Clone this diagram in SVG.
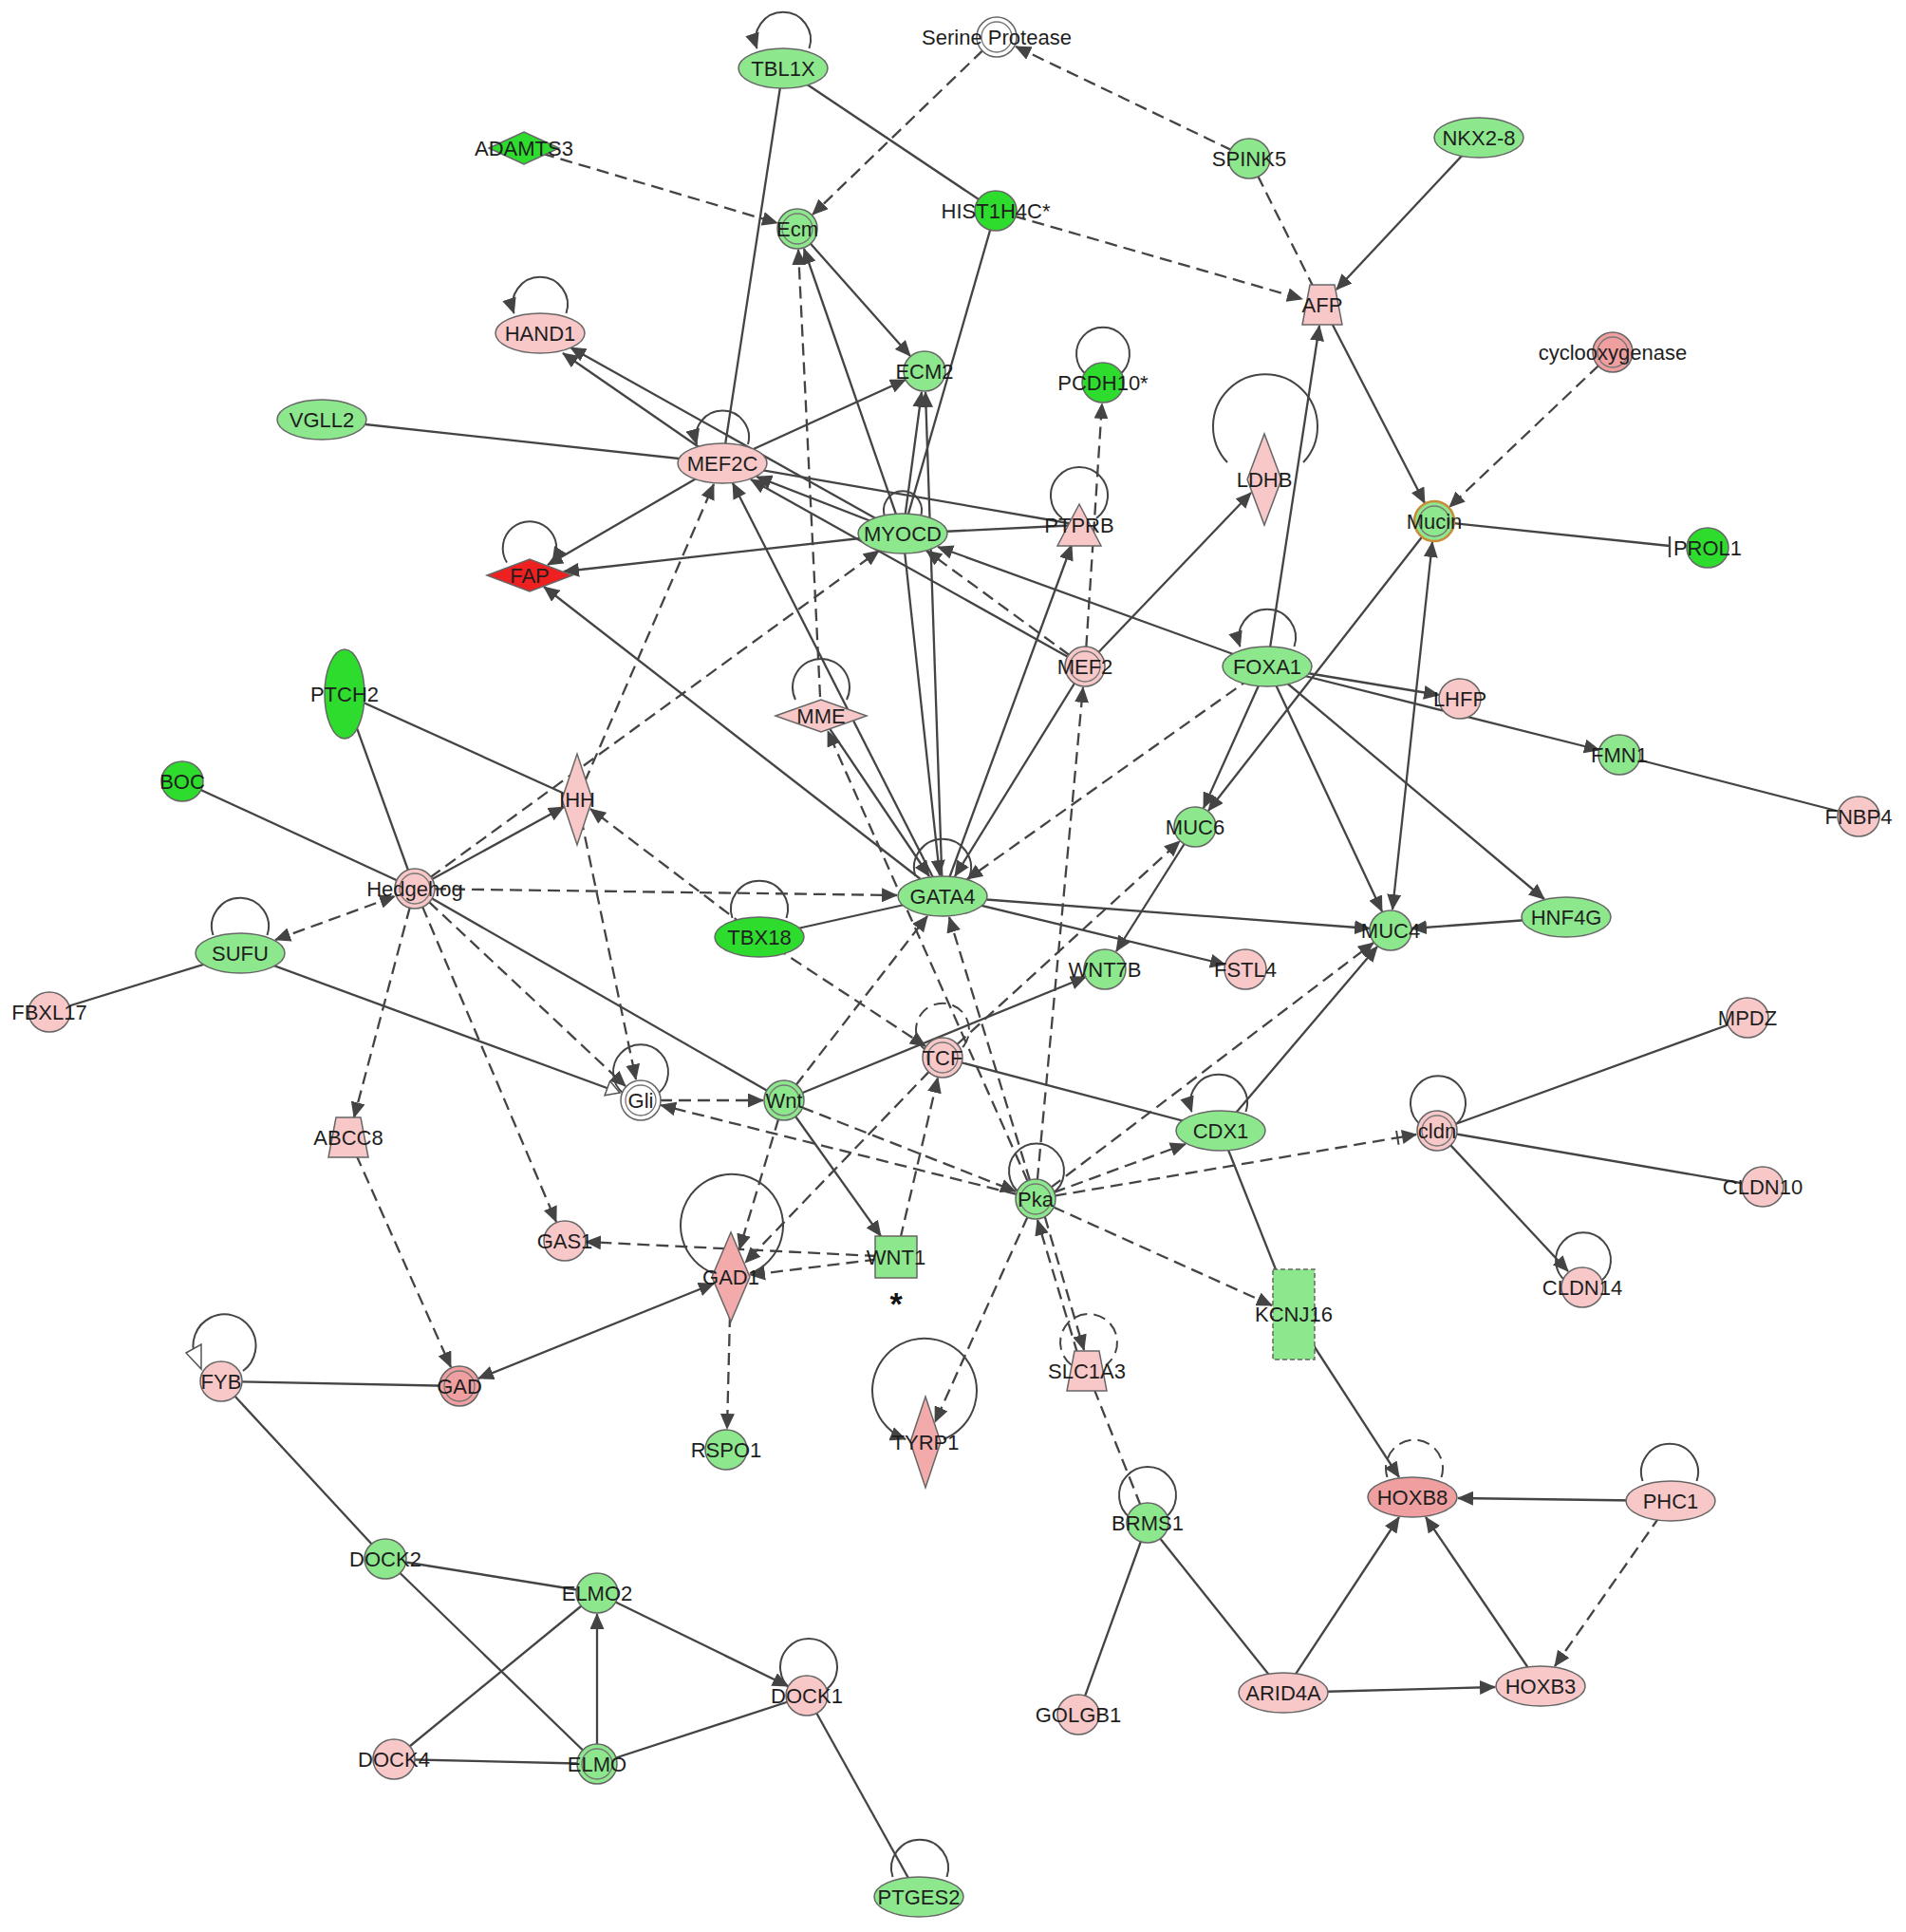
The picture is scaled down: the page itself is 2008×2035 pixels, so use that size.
<svg xmlns="http://www.w3.org/2000/svg" width="2008" height="2035" viewBox="0 0 2008 2035">
<style>
.n{stroke:#666;stroke-width:1.5}
.lg{fill:#8de88d}.bg{fill:#2edc2e}.pk{fill:#f8c8c8}.sa{fill:#ef9f9f}.rd{fill:#ee2020}.wh{fill:#fff}.dp{fill:#f3aaaa}
.in{fill:none;stroke:#777;stroke-width:1.3}
text{font-family:"Liberation Sans",Arial,sans-serif;font-size:22px;fill:#1e1e1e;text-anchor:middle}
.e{fill:none;stroke:#444;stroke-width:2.3}
.d{stroke-dasharray:13 7}
.a{marker-end:url(#ah)}
.b{marker-start:url(#as);marker-end:url(#ah)}
.o{marker-end:url(#ao)}
.lp{fill:none;stroke:#444;stroke-width:2}
</style>
<defs>
<marker id="ah" viewBox="0 0 17 15" markerWidth="17" markerHeight="15" refX="16" refY="7.5" orient="auto" markerUnits="userSpaceOnUse"><path d="M0,0L17,7.5L0,15z" fill="#444"/></marker>
<marker id="as" viewBox="0 0 17 15" markerWidth="17" markerHeight="15" refX="16" refY="7.5" orient="auto-start-reverse" markerUnits="userSpaceOnUse"><path d="M0,0L17,7.5L0,15z" fill="#444"/></marker>
<marker id="ao" viewBox="0 0 16 18" markerWidth="16" markerHeight="18" refX="15" refY="9" orient="auto" markerUnits="userSpaceOnUse"><path d="M1,1L15,9L1,17z" fill="#fff" stroke="#555" stroke-width="1.5"/></marker>
<marker id="ab" viewBox="0 0 24 15" markerWidth="24" markerHeight="15" refX="23" refY="7.5" orient="auto" markerUnits="userSpaceOnUse"><path d="M8,0L24,7.5L8,15z" fill="#444"/><path d="M3,0V15" stroke="#444" stroke-width="2"/></marker>
</defs>
<rect width="2008" height="2035" fill="#fff"/>
<g id="connectors">
<line class="e" x1="825" y1="72" x2="761" y2="488"/>
<line class="e" x1="825" y1="72" x2="1049" y2="222"/>
<line class="e d a" x1="1050" y1="39" x2="856" y2="226"/>
<line class="e d a" x1="1316" y1="167" x2="1070" y2="49"/>
<line class="e d a" x1="552" y1="156" x2="819" y2="235"/>
<line class="e d a" x1="1049" y1="222" x2="1372" y2="315"/>
<line class="e d" x1="1316" y1="167" x2="1393" y2="321"/>
<line class="e a" x1="1558" y1="145" x2="1408" y2="305"/>
<line class="e" x1="1049" y1="222" x2="951" y2="562"/>
<line class="e a" x1="840" y1="241" x2="959" y2="375"/>
<line class="e a" x1="951" y1="562" x2="847" y2="262"/>
<line class="e d a" x1="865" y1="754" x2="841" y2="263"/>
<line class="e a" x1="761" y1="488" x2="593" y2="372"/>
<line class="e a" x1="951" y1="562" x2="601" y2="366"/>
<line class="e" x1="339" y1="442" x2="761" y2="488"/>
<line class="e a" x1="761" y1="488" x2="954" y2="400"/>
<line class="e a" x1="761" y1="488" x2="577" y2="595"/>
<line class="e a" x1="951" y1="562" x2="594" y2="602"/>
<line class="e a" x1="951" y1="562" x2="797" y2="502"/>
<line class="e a" x1="1143" y1="702" x2="791" y2="505"/>
<line class="e" x1="761" y1="488" x2="1137" y2="553"/>
<line class="e d a" x1="608" y1="842" x2="752" y2="510"/>
<line class="e a" x1="993" y1="944" x2="772" y2="509"/>
<line class="e a" x1="993" y1="944" x2="573" y2="618"/>
<line class="e d a" x1="437" y1="936" x2="926" y2="580"/>
<line class="e" x1="951" y1="562" x2="1137" y2="553"/>
<line class="e d a" x1="1143" y1="702" x2="1161" y2="425"/>
<line class="e a" x1="993" y1="944" x2="1129" y2="574"/>
<line class="e a" x1="1143" y1="702" x2="1318" y2="519"/>
<line class="e a" x1="1335" y1="702" x2="1390" y2="343"/>
<line class="e a" x1="1393" y1="321" x2="1501" y2="530"/>
<line class="e d a" x1="1699" y1="371" x2="1527" y2="534"/>
<line class="e" x1="1511" y1="549" x2="1759" y2="575"/>
<line class="e" x1="1759" y1="565" x2="1759" y2="587"/>
<line class="e a" x1="1335" y1="702" x2="988" y2="576"/>
<line class="e d a" x1="1143" y1="702" x2="976" y2="580"/>
<line class="e d a" x1="1335" y1="702" x2="1019" y2="926"/>
<line class="e a" x1="1335" y1="702" x2="1268" y2="851"/>
<line class="e a" x1="1511" y1="549" x2="1273" y2="854"/>
<line class="e a" x1="1335" y1="702" x2="1456" y2="960"/>
<line class="e b" x1="1509" y1="571" x2="1467" y2="958"/>
<line class="e a" x1="1335" y1="702" x2="1516" y2="732"/>
<line class="e a" x1="1335" y1="702" x2="1685" y2="790"/>
<line class="e a" x1="1335" y1="702" x2="1627" y2="947"/>
<line class="e" x1="1706" y1="795" x2="1958" y2="860"/>
<line class="e a" x1="1650" y1="966" x2="1487" y2="978"/>
<line class="e a" x1="993" y1="944" x2="1443" y2="978"/>
<line class="e a" x1="993" y1="944" x2="1291" y2="1016"/>
<line class="e a" x1="1259" y1="871" x2="1176" y2="1002"/>
<line class="e" x1="800" y1="987" x2="993" y2="944"/>
<line class="e d a" x1="437" y1="936" x2="945" y2="943"/>
<line class="e d a" x1="800" y1="987" x2="975" y2="1102"/>
<line class="e d a" x1="800" y1="987" x2="622" y2="852"/>
<line class="e a" x1="437" y1="936" x2="594" y2="850"/>
<line class="e" x1="363" y1="731" x2="608" y2="842"/>
<line class="e" x1="363" y1="731" x2="437" y2="936"/>
<line class="e" x1="192" y1="823" x2="437" y2="936"/>
<line class="e d b" x1="290" y1="990" x2="416" y2="944"/>
<line class="e" x1="52" y1="1066" x2="253" y2="1004"/>
<line class="e o" x1="253" y1="1004" x2="653" y2="1151"/>
<line class="e" x1="437" y1="936" x2="826" y2="1159"/>
<line class="e d a" x1="437" y1="936" x2="659" y2="1144"/>
<line class="e d a" x1="437" y1="936" x2="586" y2="1287"/>
<line class="e d a" x1="437" y1="936" x2="373" y2="1177"/>
<line class="e d a" x1="608" y1="842" x2="670" y2="1137"/>
<line class="e d a" x1="675" y1="1159" x2="804" y2="1159"/>
<line class="e d a" x1="1091" y1="1263" x2="696" y2="1164"/>
<line class="e d a" x1="826" y1="1159" x2="1070" y2="1255"/>
<line class="e a" x1="826" y1="1159" x2="1144" y2="1029"/>
<line class="e d a" x1="826" y1="1159" x2="977" y2="965"/>
<line class="e a" x1="826" y1="1159" x2="928" y2="1302"/>
<line class="e d a" x1="826" y1="1159" x2="779" y2="1316"/>
<line class="e d a" x1="993" y1="1114" x2="785" y2="1330"/>
<line class="e d a" x1="944" y1="1324" x2="988" y2="1135"/>
<line class="e d a" x1="944" y1="1324" x2="790" y2="1343"/>
<line class="e d a" x1="944" y1="1324" x2="617" y2="1308"/>
<line class="e d a" x1="367" y1="1198" x2="475" y2="1440"/>
<line class="e b" x1="504" y1="1452" x2="752" y2="1352"/>
<line class="e d a" x1="770" y1="1345" x2="766" y2="1505"/>
<line class="e" x1="233" y1="1455" x2="484" y2="1460"/>
<line class="e" x1="233" y1="1455" x2="406" y2="1642"/>
<line class="e" x1="406" y1="1642" x2="629" y2="1678"/>
<line class="e" x1="406" y1="1642" x2="629" y2="1858"/>
<line class="e" x1="415" y1="1853" x2="629" y2="1678"/>
<line class="e" x1="415" y1="1853" x2="629" y2="1858"/>
<line class="e a" x1="629" y1="1858" x2="629" y2="1700"/>
<line class="e a" x1="629" y1="1678" x2="830" y2="1776"/>
<line class="e" x1="629" y1="1858" x2="850" y2="1786"/>
<line class="e" x1="850" y1="1786" x2="968" y2="1998"/>
<line class="e d a" x1="1091" y1="1263" x2="1141" y2="724"/>
<line class="e d a" x1="1091" y1="1263" x2="1000" y2="966"/>
<line class="e d a" x1="993" y1="1114" x2="1243" y2="886"/>
<line class="e d a" x1="1091" y1="1263" x2="1447" y2="993"/>
<line class="e d a" x1="1091" y1="1263" x2="1249" y2="1205"/>
<line class="e d" marker-end="url(#ab)" x1="1091" y1="1263" x2="1492" y2="1195"/>
<line class="e d a" x1="1091" y1="1263" x2="1340" y2="1375"/>
<line class="e d a" x1="1091" y1="1263" x2="985" y2="1498"/>
<line class="e d a" x1="1095" y1="1262" x2="1142" y2="1422"/>
<line class="e d a" x1="1141" y1="1445" x2="1093" y2="1285"/>
<line class="e d" x1="1145" y1="1444" x2="1209" y2="1604"/>
<line class="e" x1="1209" y1="1604" x2="1136" y2="1806"/>
<line class="e" x1="1209" y1="1604" x2="1352" y2="1783"/>
<line class="e a" x1="1352" y1="1783" x2="1474" y2="1598"/>
<line class="e a" x1="1352" y1="1783" x2="1575" y2="1777"/>
<line class="e a" x1="1623" y1="1776" x2="1502" y2="1598"/>
<line class="e a" x1="1760" y1="1581" x2="1536" y2="1578"/>
<line class="e d a" x1="1760" y1="1581" x2="1638" y2="1755"/>
<line class="e a" x1="1363" y1="1385" x2="1474" y2="1556"/>
<line class="e" x1="1286" y1="1191" x2="1363" y2="1385"/>
<line class="e a" x1="1286" y1="1191" x2="1451" y2="997"/>
<line class="e" x1="993" y1="1114" x2="1286" y2="1191"/>
<line class="e" x1="1514" y1="1191" x2="1841" y2="1072"/>
<line class="e" x1="1514" y1="1191" x2="1857" y2="1250"/>
<line class="e a" x1="1514" y1="1191" x2="1652" y2="1339"/>
<line class="e d a" x1="1091" y1="1263" x2="872" y2="770"/>
<line class="e a" x1="865" y1="754" x2="979" y2="923"/>
<line class="e a" x1="951" y1="562" x2="990" y2="922"/>
<line class="e a" x1="993" y1="944" x2="975" y2="413"/>
<line class="e a" x1="951" y1="562" x2="971" y2="413"/>
<line class="e a" x1="1143" y1="702" x2="1006" y2="923"/>
<path class="lp a" d="M852.5,51 A29,29 0 1 0 797.5,51"/>
<path class="lp a" d="M596.5,330 A29,29 0 1 0 541.5,330"/>
<path class="lp a" d="M788,468 A28,28 0 1 0 734,468"/>
<path class="lp a" d="M534,592.5 A28.3,28.3 0 1 1 582,592.5"/>
<path class="lp" d="M1145,395 A28,28 0 1 1 1179,395"/>
<path class="lp" d="M1119,546 A30,30 0 1 1 1155,546"/>
<path class="lp" d="M1293,487 A55,55 0 1 1 1373,487"/>
<path class="lp" d="M838,737 A30,30 0 1 1 892,737"/>
<path class="lp a" d="M1363.5,681 A30,30 0 1 0 1306.5,681"/>
<path class="lp" d="M933,546 A20,20 0 1 1 969,546"/>
<path class="lp" d="M964.5,923 A30,30 0 1 1 1021.5,923"/>
<path class="lp" d="M771.5,967 A30,30 0 1 1 828.5,967"/>
<path class="lp" d="M224.5,985 A30,30 0 1 1 281.5,985"/>
<path class="lp" d="M657,1152 A29,29 0 1 1 693,1152"/>
<path class="lp d" d="M976,1107 A28,28 0 1 1 1010,1107"/>
<path class="lp" d="M751,1341 A54,54 0 1 1 791,1341"/>
<path class="lp" d="M1075,1257 A29,29 0 1 1 1109,1257"/>
<path class="lp a" d="M1312.5,1171 A30,30 0 1 0 1255.5,1171"/>
<path class="lp" d="M1497,1185 A29,29 0 1 1 1533,1185"/>
<path class="lp" d="M1650,1350 A29,29 0 1 1 1686,1350"/>
<path class="lp d" d="M1129,1438 A30,30 0 1 1 1165,1438"/>
<path class="lp a" d="M994,1516 A55,55 0 1 0 954,1516"/>
<path class="lp" d="M256,1444 A33,33 0 1 0 206,1430"/>
<polygon points="196,1425 212,1416 212,1442" fill="#fff" stroke="#555" stroke-width="1.5"/>
<path class="lp" d="M1191,1599 A30,30 0 1 1 1227,1599"/>
<path class="lp d" d="M1461.5,1556 A30,30 0 1 1 1518.5,1556"/>
<path class="lp" d="M1730.5,1560 A30,30 0 1 1 1787.5,1560"/>
<path class="lp" d="M834,1780 A30,30 0 1 1 870,1780"/>
<path class="lp" d="M940.5,1977 A30,30 0 1 1 997.5,1977"/>
</g>
<g id="node-TBL1X"><ellipse class="n lg" cx="825" cy="72" rx="47" ry="21"/><text x="825" y="80">TBL1X</text></g>
<g id="node-SerineProtease"><circle class="n wh" cx="1050" cy="39" r="21"/><circle class="in" cx="1050" cy="39" r="16"/><text x="1050" y="47">Serine Protease</text></g>
<g id="node-ADAMTS3"><polygon class="n bg" points="515,156 552,139 589,156 552,173"/><text x="552" y="164">ADAMTS3</text></g>
<g id="node-Ecm"><circle class="n lg" cx="840" cy="241" r="21"/><circle class="in" cx="840" cy="241" r="16"/><text x="840" y="249">Ecm</text></g>
<g id="node-HIST1H4C"><ellipse class="n bg" cx="1049" cy="222" rx="22" ry="21"/><text x="1049" y="230">HIST1H4C*</text></g>
<g id="node-SPINK5"><ellipse class="n lg" cx="1316" cy="167" rx="22" ry="21"/><text x="1316" y="175">SPINK5</text></g>
<g id="node-NKX2-8"><ellipse class="n lg" cx="1558" cy="145" rx="47" ry="21"/><text x="1558" y="153">NKX2-8</text></g>
<g id="node-AFP"><polygon class="n pk" points="1380,300 1406,300 1414,342 1372,342"/><text x="1393" y="329">AFP</text></g>
<g id="node-HAND1"><ellipse class="n pk" cx="569" cy="351" rx="47" ry="21"/><text x="569" y="359">HAND1</text></g>
<g id="node-ECM2"><ellipse class="n lg" cx="974" cy="391" rx="22" ry="21"/><text x="974" y="399">ECM2</text></g>
<g id="node-PCDH10"><ellipse class="n bg" cx="1162" cy="403" rx="22" ry="21"/><text x="1162" y="411">PCDH10*</text></g>
<g id="node-cyclooxygenase"><circle class="n sa" cx="1699" cy="371" r="21"/><circle class="in" cx="1699" cy="371" r="16"/><text x="1699" y="379">cyclooxygenase</text></g>
<g id="node-VGLL2"><ellipse class="n lg" cx="339" cy="442" rx="47" ry="21"/><text x="339" y="450">VGLL2</text></g>
<g id="node-MEF2C"><ellipse class="n pk" cx="761" cy="488" rx="47" ry="21"/><text x="761" y="496">MEF2C</text></g>
<g id="node-LDHB"><polygon class="n pk" points="1314,505 1332,457 1350,505 1332,553"/><text x="1332" y="513">LDHB</text></g>
<g id="node-PTPRB"><polygon class="n pk" points="1137,531 1160,575 1114,575"/><text x="1137" y="561">PTPRB</text></g>
<g id="node-MYOCD"><ellipse class="n lg" cx="951" cy="562" rx="47" ry="21"/><text x="951" y="570">MYOCD</text></g>
<g id="node-Mucin"><circle class="lg" cx="1511" cy="549" r="21" stroke="#c98a3a" stroke-width="2.5"/><circle class="in" cx="1511" cy="549" r="16"/><text x="1511" y="557">Mucin</text></g>
<g id="node-PROL1"><ellipse class="n bg" cx="1799" cy="577" rx="22" ry="21"/><text x="1799" y="585">PROL1</text></g>
<g id="node-FAP"><polygon class="n rd" points="513,606 558,589 603,606 558,623"/><text x="558" y="614">FAP</text></g>
<g id="node-MEF2"><circle class="n pk" cx="1143" cy="702" r="21"/><circle class="in" cx="1143" cy="702" r="16"/><text x="1143" y="710">MEF2</text></g>
<g id="node-FOXA1"><ellipse class="n lg" cx="1335" cy="702" rx="47" ry="21"/><text x="1335" y="710">FOXA1</text></g>
<g id="node-LHFP"><ellipse class="n pk" cx="1538" cy="736" rx="22" ry="21"/><text x="1538" y="744">LHFP</text></g>
<g id="node-PTCH2"><ellipse class="n bg" cx="363" cy="731" rx="21" ry="47"/><text x="363" y="739">PTCH2</text></g>
<g id="node-MME"><polygon class="n pk" points="817,754 865,737 913,754 865,771"/><text x="865" y="762">MME</text></g>
<g id="node-FMN1"><ellipse class="n lg" cx="1706" cy="795" rx="22" ry="21"/><text x="1706" y="803">FMN1</text></g>
<g id="node-FNBP4"><ellipse class="n pk" cx="1958" cy="860" rx="22" ry="21"/><text x="1958" y="868">FNBP4</text></g>
<g id="node-BOC"><ellipse class="n bg" cx="192" cy="823" rx="22" ry="21"/><text x="192" y="831">BOC</text></g>
<g id="node-IHH"><polygon class="n pk" points="592,842 608,794 624,842 608,890"/><text x="608" y="850">IHH</text></g>
<g id="node-MUC6"><ellipse class="n lg" cx="1259" cy="871" rx="22" ry="21"/><text x="1259" y="879">MUC6</text></g>
<g id="node-Hedgehog"><circle class="n pk" cx="437" cy="936" r="21"/><circle class="in" cx="437" cy="936" r="16"/><text x="437" y="944">Hedgehog</text></g>
<g id="node-GATA4"><ellipse class="n lg" cx="993" cy="944" rx="47" ry="21"/><text x="993" y="952">GATA4</text></g>
<g id="node-TBX18"><ellipse class="n bg" cx="800" cy="987" rx="47" ry="21"/><text x="800" y="995">TBX18</text></g>
<g id="node-HNF4G"><ellipse class="n lg" cx="1650" cy="966" rx="47" ry="21"/><text x="1650" y="974">HNF4G</text></g>
<g id="node-MUC4"><ellipse class="n lg" cx="1465" cy="980" rx="22" ry="21"/><text x="1465" y="988">MUC4</text></g>
<g id="node-SUFU"><ellipse class="n lg" cx="253" cy="1004" rx="47" ry="21"/><text x="253" y="1012">SUFU</text></g>
<g id="node-WNT7B"><ellipse class="n lg" cx="1164" cy="1021" rx="22" ry="21"/><text x="1164" y="1029">WNT7B</text></g>
<g id="node-FSTL4"><ellipse class="n pk" cx="1312" cy="1021" rx="22" ry="21"/><text x="1312" y="1029">FSTL4</text></g>
<g id="node-FBXL17"><ellipse class="n pk" cx="52" cy="1066" rx="22" ry="21"/><text x="52" y="1074">FBXL17</text></g>
<g id="node-MPDZ"><ellipse class="n pk" cx="1841" cy="1072" rx="22" ry="21"/><text x="1841" y="1080">MPDZ</text></g>
<g id="node-TCF"><circle class="n pk" cx="993" cy="1114" r="21"/><circle class="in" cx="993" cy="1114" r="16"/><text x="993" y="1122">TCF</text></g>
<g id="node-Gli"><circle class="n wh" cx="675" cy="1159" r="21"/><circle class="in" cx="675" cy="1159" r="16"/><text x="675" y="1167">Gli</text></g>
<g id="node-Wnt"><circle class="n lg" cx="826" cy="1159" r="21"/><circle class="in" cx="826" cy="1159" r="16"/><text x="826" y="1167">Wnt</text></g>
<g id="node-CDX1"><ellipse class="n lg" cx="1286" cy="1191" rx="47" ry="21"/><text x="1286" y="1199">CDX1</text></g>
<g id="node-cldn"><circle class="n pk" cx="1514" cy="1191" r="21"/><circle class="in" cx="1514" cy="1191" r="16"/><text x="1514" y="1199">cldn</text></g>
<g id="node-ABCC8"><polygon class="n pk" points="354,1177 380,1177 388,1219 346,1219"/><text x="367" y="1206">ABCC8</text></g>
<g id="node-Pka"><circle class="n lg" cx="1091" cy="1263" r="21"/><circle class="in" cx="1091" cy="1263" r="16"/><text x="1091" y="1271">Pka</text></g>
<g id="node-CLDN10"><ellipse class="n pk" cx="1857" cy="1250" rx="22" ry="21"/><text x="1857" y="1258">CLDN10</text></g>
<g id="node-GAS1"><ellipse class="n pk" cx="595" cy="1307" rx="22" ry="21"/><text x="595" y="1315">GAS1</text></g>
<g id="node-GAD1"><polygon class="n dp" points="750,1345 770,1298 790,1345 770,1392"/><text x="770" y="1353">GAD1</text></g>
<g id="node-WNT1"><rect class="n lg" x="922" y="1302" width="44" height="44"/><text x="944" y="1332">WNT1</text><text x="944" y="1385" style="font-size:34px;font-weight:bold;fill:#111">*</text></g>
<g id="node-CLDN14"><ellipse class="n pk" cx="1667" cy="1356" rx="22" ry="21"/><text x="1667" y="1364">CLDN14</text></g>
<g id="node-KCNJ16"><rect class="lg" x="1341" y="1337" width="44" height="95" stroke="#666" stroke-width="1.5" stroke-dasharray="5 3"/><text x="1363" y="1392">KCNJ16</text></g>
<g id="node-FYB"><ellipse class="n pk" cx="233" cy="1455" rx="22" ry="21"/><text x="233" y="1463">FYB</text></g>
<g id="node-GAD"><circle class="n sa" cx="484" cy="1460" r="21"/><circle class="in" cx="484" cy="1460" r="16"/><text x="484" y="1468">GAD</text></g>
<g id="node-SLC1A3"><polygon class="n pk" points="1132,1423 1158,1423 1166,1465 1124,1465"/><text x="1145" y="1452">SLC1A3</text></g>
<g id="node-TYRP1"><polygon class="n dp" points="959,1519 975,1471 991,1519 975,1567"/><text x="975" y="1527">TYRP1</text></g>
<g id="node-RSPO1"><ellipse class="n lg" cx="765" cy="1527" rx="22" ry="21"/><text x="765" y="1535">RSPO1</text></g>
<g id="node-HOXB8"><ellipse class="n sa" cx="1488" cy="1577" rx="47" ry="21"/><text x="1488" y="1585">HOXB8</text></g>
<g id="node-PHC1"><ellipse class="n pk" cx="1760" cy="1581" rx="47" ry="21"/><text x="1760" y="1589">PHC1</text></g>
<g id="node-BRMS1"><ellipse class="n lg" cx="1209" cy="1604" rx="22" ry="21"/><text x="1209" y="1612">BRMS1</text></g>
<g id="node-DOCK2"><ellipse class="n lg" cx="406" cy="1642" rx="22" ry="21"/><text x="406" y="1650">DOCK2</text></g>
<g id="node-ELMO2"><ellipse class="n lg" cx="629" cy="1678" rx="22" ry="21"/><text x="629" y="1686">ELMO2</text></g>
<g id="node-DOCK1"><ellipse class="n pk" cx="850" cy="1786" rx="22" ry="21"/><text x="850" y="1794">DOCK1</text></g>
<g id="node-ARID4A"><ellipse class="n pk" cx="1352" cy="1783" rx="47" ry="21"/><text x="1352" y="1791">ARID4A</text></g>
<g id="node-HOXB3"><ellipse class="n pk" cx="1623" cy="1776" rx="47" ry="21"/><text x="1623" y="1784">HOXB3</text></g>
<g id="node-GOLGB1"><ellipse class="n pk" cx="1136" cy="1806" rx="22" ry="21"/><text x="1136" y="1814">GOLGB1</text></g>
<g id="node-DOCK4"><ellipse class="n pk" cx="415" cy="1853" rx="22" ry="21"/><text x="415" y="1861">DOCK4</text></g>
<g id="node-ELMO"><circle class="n lg" cx="629" cy="1858" r="21"/><circle class="in" cx="629" cy="1858" r="16"/><text x="629" y="1866">ELMO</text></g>
<g id="node-PTGES2"><ellipse class="n lg" cx="968" cy="1998" rx="47" ry="21"/><text x="968" y="2006">PTGES2</text></g>
</svg>
